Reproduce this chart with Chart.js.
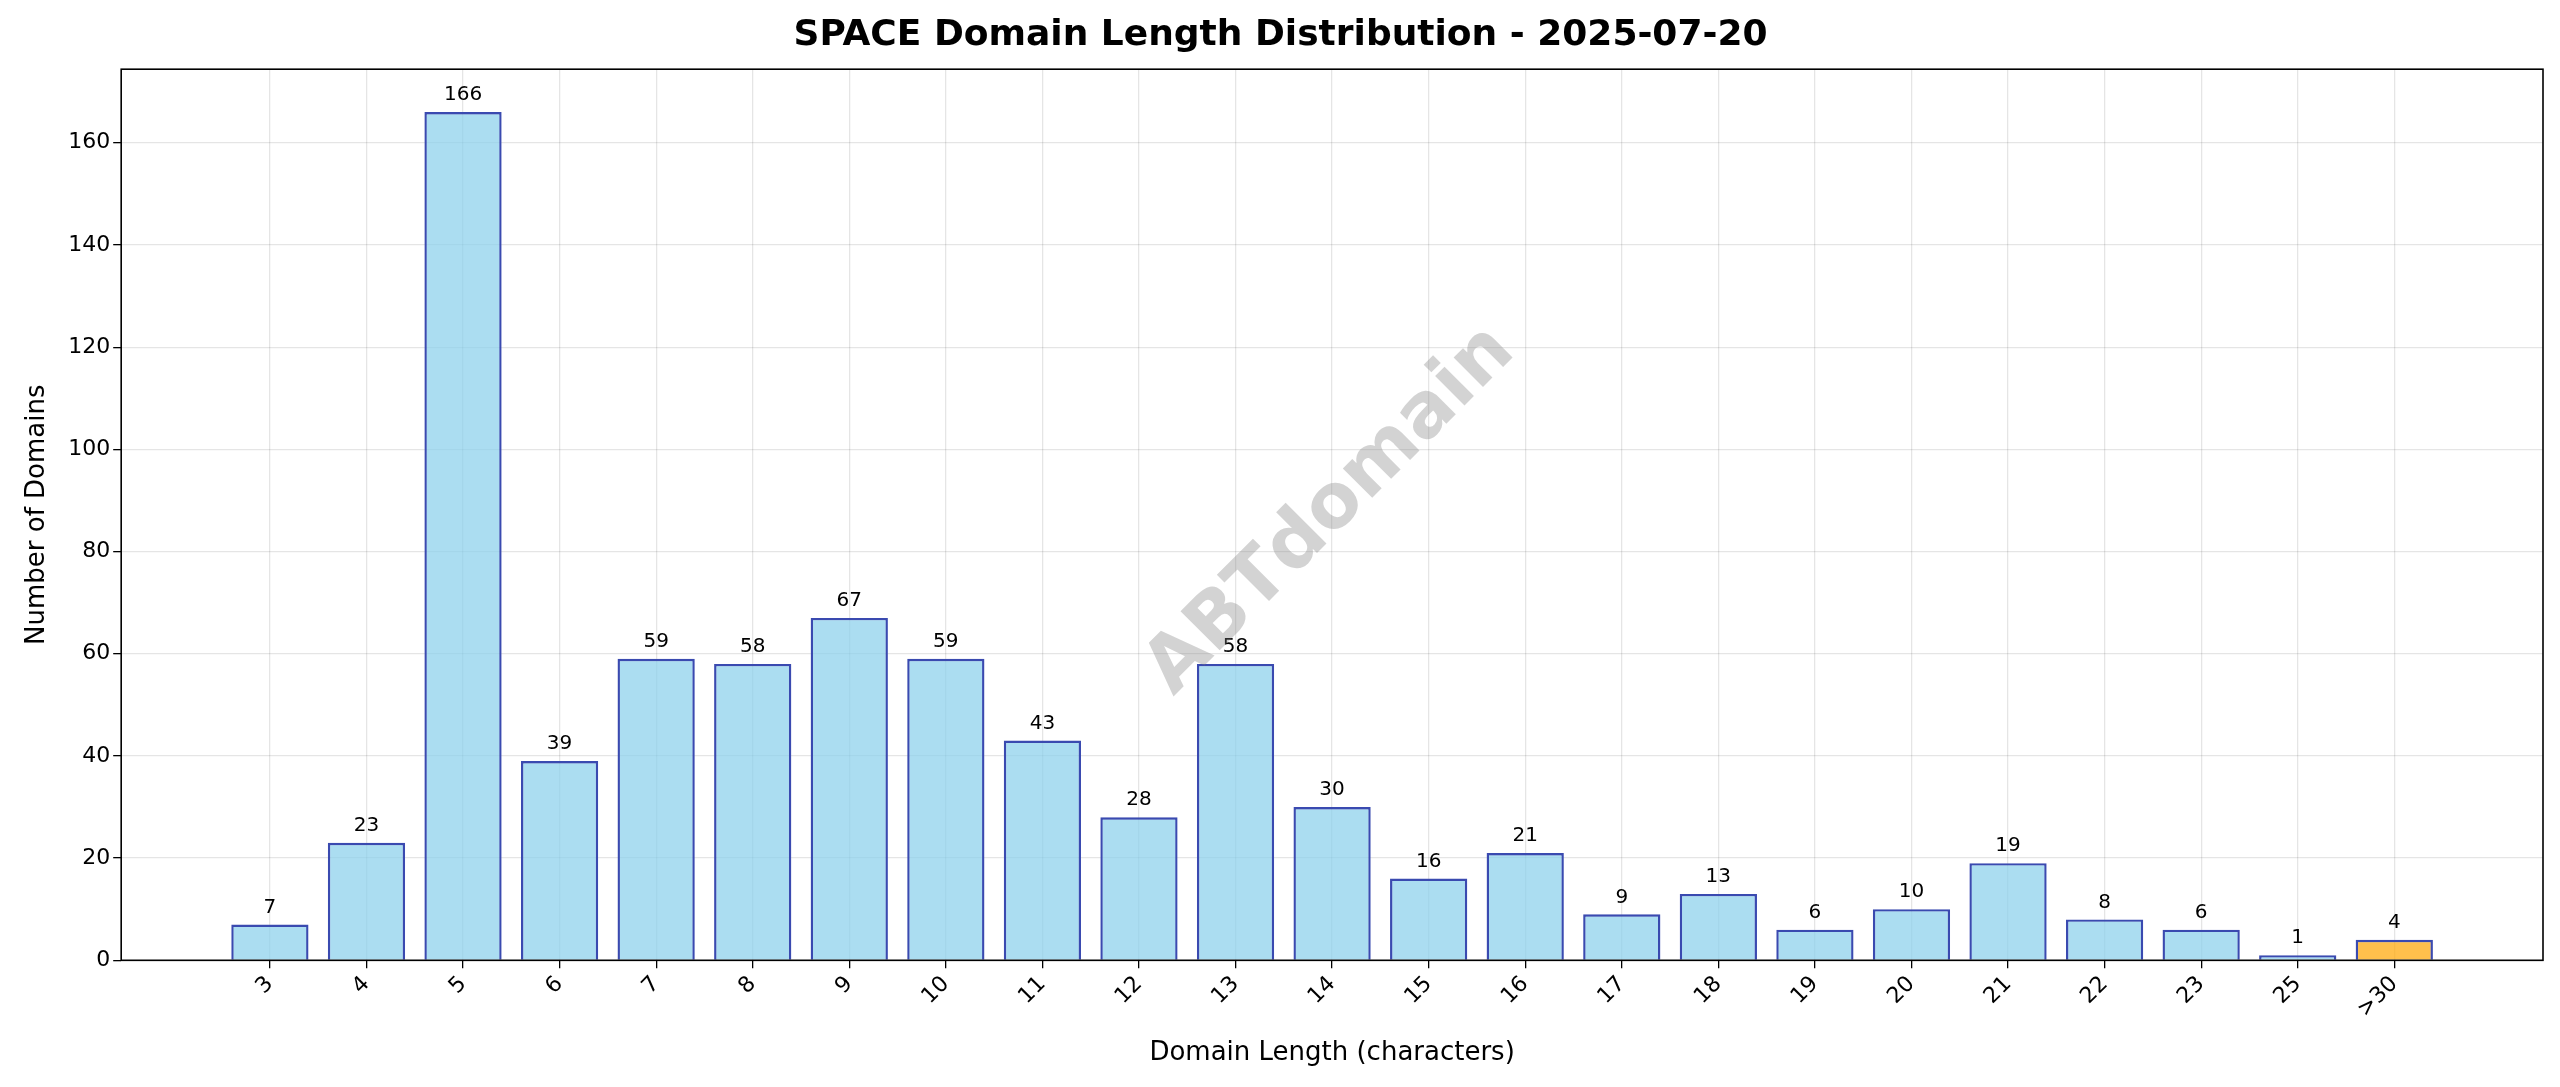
<!DOCTYPE html>
<html><head><meta charset="utf-8">
<script src="https://cdn.jsdelivr.net/npm/chart.js@4"></script>
<style>html,body{margin:0;background:#fff}#w{width:2560px;height:1087px}</style>
</head><body><div id="w"><canvas id="c"></canvas></div>
<script>
const categories=["3","4","5","6","7","8","9","10","11","12","13","14","15","16","17","18","19","20","21","22","23","25",">30"];
const counts=[7,23,166,39,59,58,67,59,43,28,58,30,16,21,9,13,6,10,19,8,6,1,4];
const yTicks=[0,20,40,60,80,100,120,140,160];
const F='"DejaVu Sans", sans-serif';
const fill=categories.map(c=>c===">30"?"rgba(255,165,0,0.7)":"rgba(135,206,235,0.7)");
const edge=categories.map(c=>"#3a4ab0");
const extras={id:'extras',
 afterDatasetsDraw(ch){const c=ch.ctx,m=ch.getDatasetMeta(0);c.save();c.fillStyle='#000';c.font='20px '+F;c.textAlign='center';c.textBaseline='bottom';
  m.data.forEach((b,i)=>c.fillText(String(counts[i]),b.x,b.y-7));
  const a=ch.chartArea;c.strokeStyle='#000';c.lineWidth=1.6;c.strokeRect(a.left,a.top,a.right-a.left,a.bottom-a.top);
  c.translate(1331,511);c.rotate(-Math.PI/4);c.fillStyle='rgba(128,128,128,0.35)';c.font='bold 76px '+F;c.textAlign='center';c.textBaseline='middle';c.fillText('ABTdomain',0,0);c.restore();}};
new Chart(document.getElementById('c'),{type:'bar',
 data:{datasets:[{data:counts.map((v,i)=>({x:i,y:v})),backgroundColor:fill,borderColor:edge,borderWidth:2.4,barPercentage:0.8,categoryPercentage:1}]},
 options:{responsive:true,maintainAspectRatio:false,animation:false,devicePixelRatio:1,
  layout:{padding:{left:18,right:17,top:0,bottom:14}},
  plugins:{legend:{display:false},tooltip:{enabled:false},
   title:{display:true,text:'SPACE Domain Length Distribution - 2025-07-20',color:'#000',font:{family:F,size:36,weight:'bold'},padding:{top:14,bottom:12}}},
  scales:{
   x:{type:'linear',min:-1.54,max:categories.length-1+1.54,offset:false,
    afterBuildTicks(s){s.ticks=categories.map((c,i)=>({value:i}));},
    ticks:{autoSkip:false,maxRotation:45,minRotation:45,color:'#000',font:{family:F,size:22},callback:v=>categories[v]},
    grid:{offset:false,color:'rgba(0,0,0,0.1)',lineWidth:1.3,tickColor:'#000',tickLength:8},border:{display:false},
    title:{display:true,text:'Domain Length (characters)',color:'#000',font:{family:F,size:26},padding:{top:12}}},
   y:{min:0,max:174.4,afterBuildTicks(s){s.ticks=yTicks.map(v=>({value:v}));},
    ticks:{color:'#000',font:{family:F,size:22}},
    grid:{color:'rgba(0,0,0,0.1)',lineWidth:1.3,tickColor:'#000',tickLength:8},border:{display:false},
    title:{display:true,text:'Number of Domains',color:'#000',font:{family:F,size:26},padding:{bottom:12}}}}},
 plugins:[extras]});
</script></body></html>
